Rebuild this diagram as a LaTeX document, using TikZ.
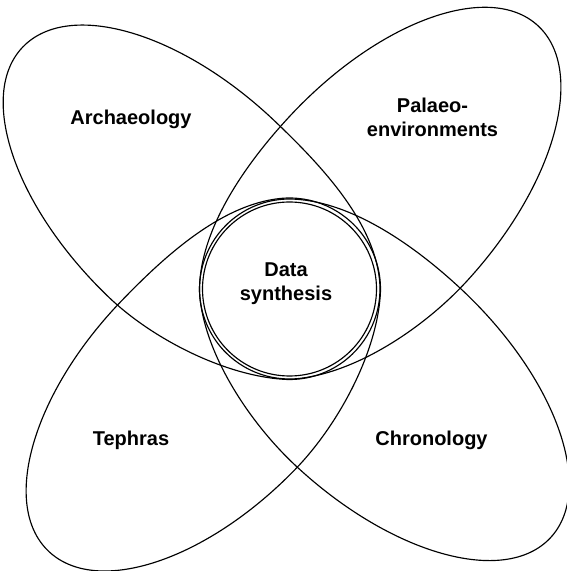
\documentclass[tikz,border=0pt]{standalone}
\usepackage{fontspec}
\setmainfont{Liberation Sans}
\begin{document}
\begin{tikzpicture}[x=1pt,y=1pt,
    petal/.style={line width=1.15pt, line join=round},
    lbl/.style={font=\bfseries\fontsize{20}{24}\selectfont, align=center, inner sep=0pt}]
  \useasboundingbox (0,0) rectangle (566,571);
  \coordinate (hub) at (289.5,282);
  % Petals: angle / length / offset / tip radius
  \foreach \ang/\len/\off/\tip in {136.2/360/10/90.5, 47.3/362/-4/90, 226/356/8.4/91, -43/360.5/-4/90}{
    \begin{scope}[shift={(hub)}, rotate=\ang]
      \draw [petal] (130:\tip) .. controls +(40:60) and +(-60,0) .. (125,121+\off)
        arc [start angle=90, end angle=-90, x radius=\len-125, y radius=121]
        .. controls +(-60,0) and +(-40:60) .. (-130:\tip)
        arc [start angle=-130, end angle=-230, radius=\tip] -- cycle;
    \end{scope}
  }
  % Centre
  \draw [petal] (hub) circle [radius=87];
  % Labels
  \node [lbl, anchor=base] (arch) at (131,446) {Archaeology};
  \node [lbl] (palaeo) at (432.5,453.3) {Palaeo-\\environments};
  \node [lbl] (data) at (286,287) {Data\\synthesis};
  \node [lbl, anchor=base] (tephras) at (131,125) {Tephras};
  \node [lbl, anchor=base] (chrono) at (431.5,125) {Chronology};
\end{tikzpicture}
\end{document}
